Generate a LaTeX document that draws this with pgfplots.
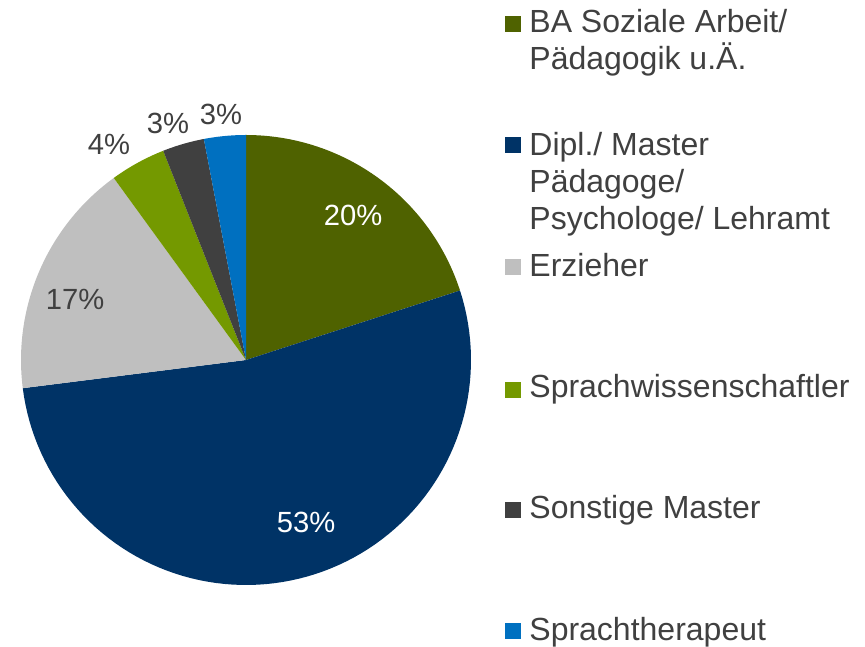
\documentclass[border=0pt]{standalone}
\usepackage{pgfplots}
\usepackage{pgfplotstable}
\pgfplotsset{compat=1.18}
\usepackage{fontspec}
\setmainfont{Liberation Sans}
\definecolor{c1}{RGB}{79,98,0}
\definecolor{c2}{RGB}{0,51,102}
\definecolor{c3}{RGB}{191,191,191}
\definecolor{c4}{RGB}{116,153,0}
\definecolor{c5}{RGB}{64,64,64}
\definecolor{c6}{RGB}{0,112,192}
\definecolor{txt}{RGB}{64,64,64}
\pgfplotstableread{
value col
20 c1
53 c2
17 c3
4 c4
3 c5
3 c6
}\piedata
\begin{document}
\begin{tikzpicture}
\begin{axis}[
  x=0.5pt, y=0.5pt,
  xmin=0, xmax=865, ymin=0, ymax=646,
  hide axis, clip=false, scale only axis,
]
\path (axis cs:0,0) rectangle (axis cs:865,646);
\gdef\angA{90}
\pgfplotsforeachungrouped \i in {0,...,5}{
  \pgfplotstablegetelem{\i}{value}\of\piedata \let\v\pgfplotsretval
  \pgfplotstablegetelem{\i}{col}\of\piedata \let\c\pgfplotsretval
  \pgfmathsetmacro\angB{\angA-3.6*\v}
  \edef\temp{\noexpand\addplot[fill=\c, draw=none, domain=\angB:\angA, samples=90, variable=\noexpand\t] ({246+225*cos(\noexpand\t)},{286+225*sin(\noexpand\t)}) -- (axis cs:246,286) -- cycle;}
  \temp
  \xdef\angA{\angB}
}
% percentage labels
\begin{scope}[every node/.style={font=\fontsize{14.6}{18}\selectfont, anchor=base, inner sep=0pt}]
\node[text=white] at (axis cs:353,420) {20\%};
\node[text=white] at (axis cs:306,113) {53\%};
\node[text=txt] at (axis cs:75,336) {17\%};
\node[text=txt] at (axis cs:109,491) {4\%};
\node[text=txt] at (axis cs:168,512) {3\%};
\node[text=txt] at (axis cs:221,521) {3\%};
\end{scope}
% legend
\begin{scope}[every node/.style={font=\fontsize{16}{18}\selectfont, anchor=base west, inner sep=0pt, text=txt}]
\fill[c1] (axis cs:505,614) rectangle (axis cs:521,630);
\node at (axis cs:529,613) {BA Soziale Arbeit/};
\node at (axis cs:529,576) {Pädagogik u.Ä.};
\fill[c2] (axis cs:505,493) rectangle (axis cs:521,509);
\node at (axis cs:529,490) {Dipl./ Master};
\node at (axis cs:529,453) {Pädagoge/};
\node at (axis cs:529,416) {Psychologe/ Lehramt};
\fill[c3] (axis cs:505,371) rectangle (axis cs:521,387);
\node at (axis cs:529,369) {Erzieher};
\fill[c4] (axis cs:505,248) rectangle (axis cs:521,264);
\node at (axis cs:529,248) {Sprachwissenschaftler};
\fill[c5] (axis cs:505,128) rectangle (axis cs:521,144);
\node at (axis cs:529,127) {Sonstige Master};
\fill[c6] (axis cs:505,7) rectangle (axis cs:521,23);
\node at (axis cs:529,6) {Sprachtherapeut};
\end{scope}
\end{axis}
\end{tikzpicture}
\end{document}
